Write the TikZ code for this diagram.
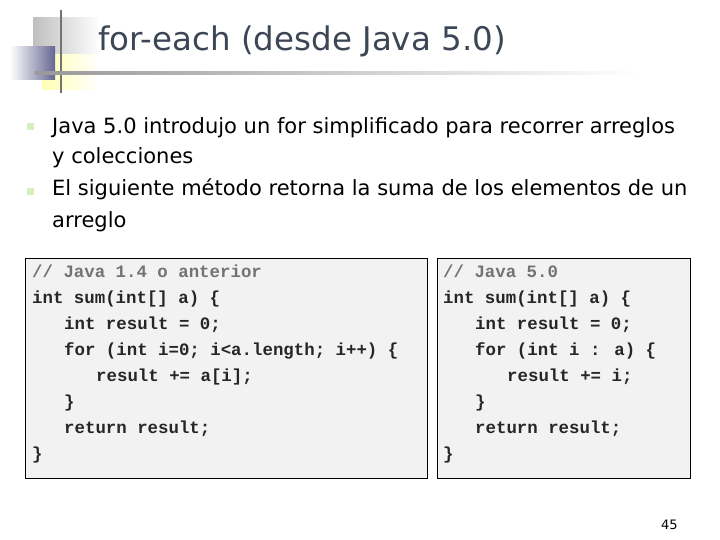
\documentclass[tikz,border=0pt]{standalone}
\usepackage{fontspec}
\setmainfont{DejaVu Sans}
\newfontfamily\codefont{Liberation Mono}
\begin{document}
\begin{tikzpicture}[x=1pt,y=-1pt,
  txt/.style={anchor=base west,inner sep=0,font=\fontsize{21}{24}\selectfont},
  code/.style={anchor=base west,inner sep=0,font=\codefont\bfseries\fontsize{17.4}{18}\selectfont,text=black!85},
  cmt/.style={code,text=black!55},
  codebox/.style={draw=black,line width=0.8pt,fill=black!5},
  bul/.style={fill=yellow!35!green!25,draw=none,minimum size=7pt,inner sep=0}]
\useasboundingbox (0,0) rectangle (720,540);
\fill[white] (0,0) rectangle (720,540);
% decoration
\shade[left color=black!25,right color=white] (33,18) rectangle (100,72);
\shade[left color=yellow!30,right color=white] (42,55) rectangle (100,90);
\shade[left color=white,right color=blue!30!black!60] (10,47) rectangle (55,80);
\draw[black!55,line width=1.5pt] (61,10) -- (61,93);
\shade[left color=black!40,right color=white] (35,72) rectangle (640,75);
\node[anchor=base west,inner sep=0,text={rgb,255:red,60;green,70;blue,85},font=\fontsize{32.5}{34}\selectfont] (title) at (98,51) {for-each (desde Java 5.0)};
% bullets
\node[bul] (b1) at (30,127) {};
\node[bul] (b2) at (30,192) {};
\node[txt] (l1) at (52,134) {Java 5.0 introdujo un for simplificado para recorrer arreglos};
\node[txt] (l2) at (52,164) {y colecciones};
\node[txt] (l3) at (52,196) {El siguiente método retorna la suma de los elementos de un};
\node[txt] (l4) at (52,227) {arreglo};
% code boxes
\draw[codebox] (25,258) rectangle (427,478);
\draw[codebox] (437,258) rectangle (690,478);
\node[cmt] (a1) at (32,277) {// Java 1.4 o anterior};
\node[code] (a2) at (32,303) {int sum(int[] a) \{};
\node[code] (a3) at (64,329) {int result = 0;};
\node[code] (a4) at (64,355) {for (int i=0; i<a.length; i++) \{};
\node[code] (a5) at (96,381) {result += a[i];};
\node[code] (a6) at (64,407) {\}};
\node[code] (a7) at (64,433) {return result;};
\node[code] (a8) at (32,459) {\}};
\node[cmt] (c1) at (443,277) {// Java 5.0};
\node[code] (c2) at (443,303) {int sum(int[] a) \{};
\node[code] (c3) at (475,329) {int result = 0;};
\node[code] (c4) at (475,355) {for (int i : a) \{};
\node[code] (c5) at (507,381) {result += i;};
\node[code] (c6) at (475,407) {\}};
\node[code] (c7) at (475,433) {return result;};
\node[code] (c8) at (443,459) {\}};
\node[anchor=base west,inner sep=0,font=\fontsize{13}{14}\selectfont] (pg) at (661,529) {45};
\end{tikzpicture}
\end{document}
